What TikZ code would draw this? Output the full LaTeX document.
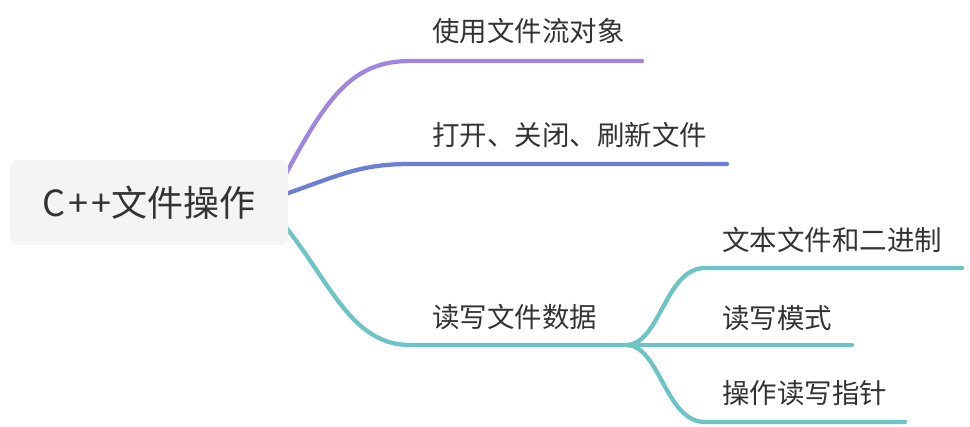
\documentclass[tikz,border=0pt]{standalone}
\usepackage{fontspec}
\newfontfamily\cjk{Noto Sans CJK SC}
\definecolor{cpurple}{HTML}{A086DE}
\definecolor{cblue}{HTML}{6B7FD7}
\definecolor{cteal}{HTML}{6CC4C4}
\definecolor{ctext}{HTML}{333333}
\definecolor{cbox}{HTML}{F4F4F4}
\tikzset{
  branch/.style={line width=3.2pt, line cap=round},
  lbl/.style={anchor=west, inner sep=0pt, text=ctext, font=\cjk\fontsize{20.6pt}{24pt}\selectfont},
  rootbox/.style={fill=cbox, rounded corners=6pt, inner sep=0pt, minimum width=208.5pt, minimum height=64pt, text=ctext, font=\cjk\fontsize{27pt}{30pt}\selectfont}
}
\begin{document}
\begin{tikzpicture}[x=0.75pt,y=-0.75pt]
\useasboundingbox (0,0) rectangle (970,426);
% connector anchor points
\coordinate (s1) at (280,185);
\coordinate (s2) at (280,196);
\coordinate (s3) at (280,220);
\coordinate (e1a) at (410,61);
\coordinate (e1b) at (642,61);
\coordinate (e2a) at (410,164);
\coordinate (e2b) at (727,164);
\coordinate (e3a) at (410,345);
\coordinate (e3b) at (612,345);
\coordinate (j) at (626,345);
\coordinate (t1a) at (705,268);
\coordinate (t1b) at (962,268);
\coordinate (t2b) at (852,345);
\coordinate (t3a) at (705,422);
\coordinate (t3b) at (905,422);
% branches
\draw[branch, cpurple] (s1) .. controls (325,100) and (350,61) .. (e1a) -- (e1b);
\draw[branch, cblue] (s2) .. controls (340,175) and (360,164) .. (e2a) -- (e2b);
\draw[branch, cteal] (s3) .. controls (330,280) and (350,345) .. (e3a) -- (e3b);
\draw[branch, cteal] (e3b) -- (j) .. controls (660,345) and (665,268) .. (t1a) -- (t1b);
\draw[branch, cteal] (j) -- (t2b);
\draw[branch, cteal] (j) .. controls (660,345) and (665,422) .. (t3a) -- (t3b);
% root
\node[rootbox] (root) at (149,202.5) {C\kern2.5pt+\kern2.5pt+文件操作};
% labels
\node[lbl] (n1) at (432,31) {使用文件流对象};
\node[lbl] (n2) at (432,135) {打开、关闭、刷新文件};
\node[lbl] (n3) at (432,317) {读写文件数据};
\node[lbl] (m1) at (722,240) {文本文件和二进制};
\node[lbl] (m2) at (722,318) {读写模式};
\node[lbl] (m3) at (722,393) {操作读写指针};
\end{tikzpicture}
\end{document}
